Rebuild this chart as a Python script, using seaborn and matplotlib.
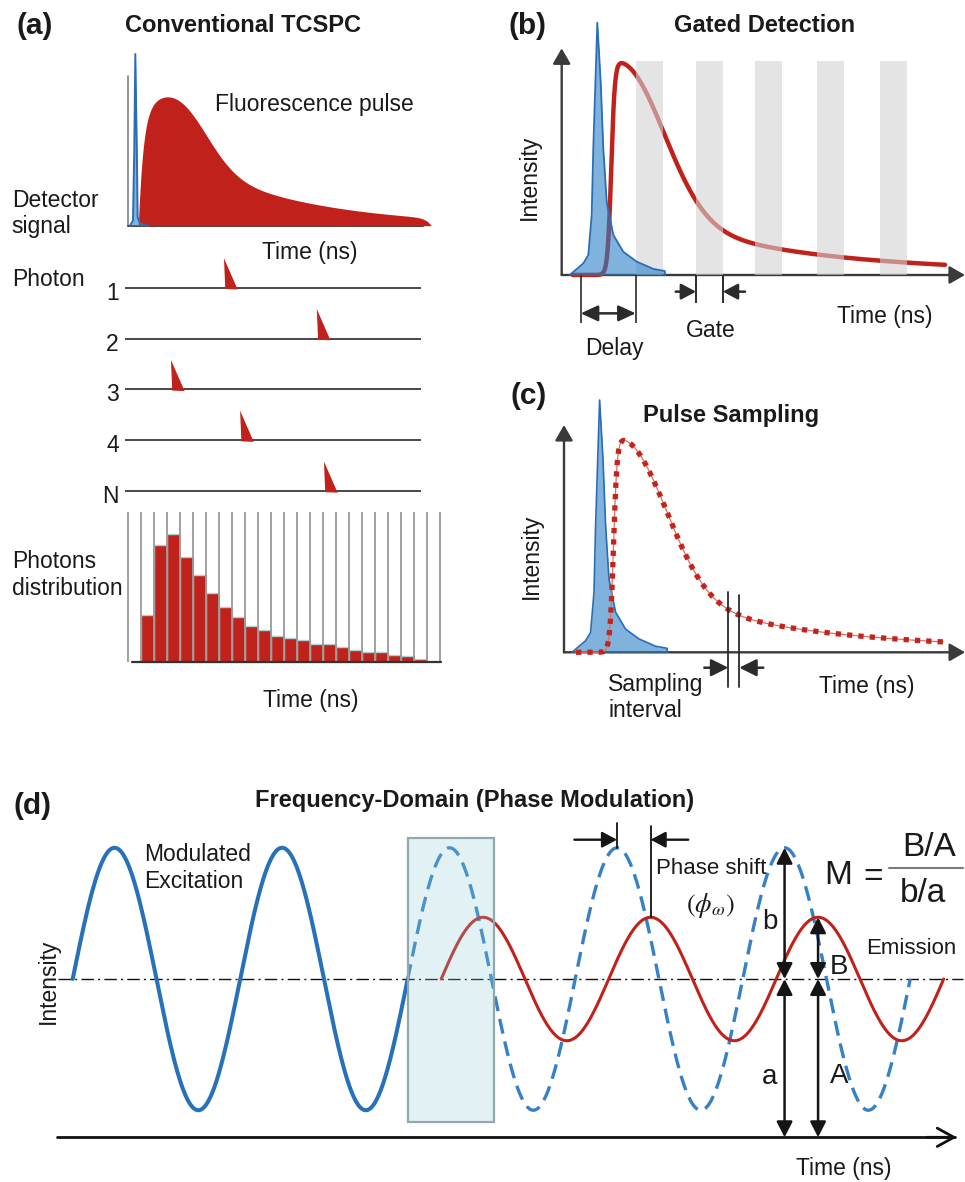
import numpy as np
import pandas as pd
import matplotlib
matplotlib.use("Agg")
import matplotlib.pyplot as plt
from matplotlib.patches import Rectangle
import seaborn as sns

sns.set_theme(style="white")
plt.rcParams["font.family"] = ["Liberation Sans", "DejaVu Sans"]
plt.rcParams["mathtext.fontset"] = "stix"

# ======================= DATA =======================
# (a) Conventional TCSPC  (time in histogram bins, intensity relative to laser pulse)
irf_a_time = [0.13, 0.36, 0.46, 0.54, 0.65, 0.72, 0.90, 1.52]
irf_a_int = [0.0, 0.03, 0.44, 1.0, 0.47, 0.05, 0.012, 0.0]
fl_a_window = [0.77, 23.3]          # onset, end
fl_a_rise = [0.385, 0.4]            # rise time, end roll-off
fl_a_tail = [0.582, 8.85]           # amplitude, decay time
fl_a_bump = [0.32, 3.82, 2.31]      # amplitude, centre, width

photon_ids = ["1", "2", "3", "4", "N"]
photon_arrival = [7.36, 14.5, 3.28, 8.6, 15.05]

hist_counts = [142, 352, 384, 317, 262, 209, 167, 135, 109, 97, 80, 74,
               67, 55, 54, 47, 37, 32, 30, 22, 19, 10]
hist_first_bin = 1
hist_n_bins = 24
hist_frame = 450

# (b) / (c)  (time in ns, intensity relative to laser pulse)
irf_time = [0.267, 0.72, 0.887, 1.0, 1.053, 1.187, 1.3, 1.387, 1.5, 1.72,
            2.053, 2.5, 3.053, 3.433, 3.45]
irf_int = [0.0, 0.046, 0.079, 0.238, 0.502, 1.0, 0.765, 0.502, 0.29, 0.159,
           0.092, 0.053, 0.024, 0.016, 0.0]
pulse_peak = [2.15]
pulse_bump = [0.515, 1.333]         # amplitude, width
pulse_fast = [0.159, 2.667]         # amplitude, lifetime
pulse_slow = [0.159, 7.333]         # amplitude, lifetime
pulse_rise = [1.65, 0.06]           # rise centre, rise width
pulse_window_b = [0.37, 12.78]
pulse_window_c = [0.40, 12.64]

gate_starts = [2.467, 4.477, 6.443, 8.51, 10.61]
gate_width = 0.895
gate_height = 0.849
delay_span = [0.633, 2.467]
sample_times = [5.477, 5.843]

# (d) Frequency domain
mod_period = 1.0
exc_dc, exc_ac = 1.0, 0.829
em_dc, em_ac = 1.0, 0.39
phase_lag = 0.2                     # fraction of period (72 deg)
exc_solid_span = [0.0, 2.0]
exc_dashed_span = [2.0, 5.0]
em_span = [2.2, 5.2]
window_span = [2.0, 2.515, 0.0985, 1.893]
marker_cycles = [3, 4]              # cycle for phase shift, cycle for amplitudes

# ======================= STYLE =======================
W, H = 965, 1182
RED = "#c0221b"
RED_DOT = "#c4241c"
BLUE = "#2671b9"
BLUE2 = "#3580c6"
IRF_FILL = "#2a7fc5"
IRF_EDGE = "#2a6db5"
DARK = "#2b2b2b"
FS = 16.5

fig = plt.figure(figsize=(W / 100, H / 100), dpi=100)
limits = []


def panel_axes(box, origin, scale):
    left, right, top, bottom = box
    x0, y0 = origin
    xs, ys = scale
    ax = fig.add_axes([left / W, 1 - bottom / H, (right - left) / W, (bottom - top) / H])
    xl = ((left - x0) / xs, (right - x0) / xs)
    yl = ((y0 - bottom) / ys, (y0 - top) / ys)
    ax.set_xlim(*xl)
    ax.set_ylim(*yl)
    ax.set_axis_off()
    limits.append((ax, xl, yl))
    return ax


def ftext(px, py, s, **kw):
    kw.setdefault("fontsize", FS)
    kw.setdefault("color", "#1a1a1a")
    return fig.text(px / W, 1 - py / H, s, **kw)


def arrow(ax, p0, p1, style="-|>", lw=1.7, color="#151515", hl=0.45, hw=0.24, z=6):
    ax.annotate("", xy=p1, xytext=p0, annotation_clip=False, zorder=z,
                arrowprops=dict(arrowstyle=f"{style},head_length={hl},head_width={hw}",
                                lw=lw, color=color, shrinkA=0, shrinkB=0,
                                mutation_scale=20))


def pulse_a(t):
    on, end = fl_a_window
    rise = np.clip(1 - np.exp(-(t - on) / fl_a_rise[0]), 0, None)
    fall = np.clip(1 - np.exp(-(end - t) / fl_a_rise[1]), 0, None)
    tail = fl_a_tail[0] * np.exp(-(t - on) / fl_a_tail[1])
    bump = fl_a_bump[0] * np.exp(-0.5 * ((t - fl_a_bump[1]) / fl_a_bump[2]) ** 2)
    return rise * fall * (tail + bump)


def pulse_bc(t):
    tp = pulse_peak[0]
    d = (pulse_bump[0] * np.exp(-0.5 * ((t - tp) / pulse_bump[1]) ** 2)
         + pulse_fast[0] * np.exp(-(t - tp) / pulse_fast[1])
         + pulse_slow[0] * np.exp(-(t - tp) / pulse_slow[1]))
    r = 1.0 / (1.0 + np.exp(-(t - pulse_rise[0]) / pulse_rise[1]))
    return d * r


# ======================= PANEL (a) =======================
axa = panel_axes((100, 460, 40, 240), (128.3, 225.7), (13, 171.7))
ta = np.linspace(fl_a_window[0], fl_a_window[1], 600)
axa.fill_between(ta, 0, pulse_a(ta), color=RED, lw=0, zorder=2)
axa.fill_between(irf_a_time, 0, irf_a_int, color=IRF_FILL, alpha=0.6, lw=0, zorder=3)
sns.lineplot(x=irf_a_time, y=irf_a_int, ax=axa, color=IRF_EDGE, lw=1.4,
             sort=False, estimator=None, zorder=4)
axa.plot([-0.05, -0.05], [0, 0.87], color="#8a8a8a", lw=1.3, zorder=1)
axa.plot([-0.05, 22.69], [0, 0], color="#444444", lw=1.4, zorder=1)

axp = panel_axes((100, 460, 245, 505), (128.3, 287.7), (13, 50.8))
rows = -np.arange(len(photon_ids))
axp.hlines(rows, -0.25, 22.5, color="#3a3a3a", lw=1.3, zorder=1)
for r, lab, t0 in zip(rows, photon_ids, photon_arrival):
    axp.fill([t0, t0 + 0.1, t0 + 1.05], [r + 0.58, r - 0.025, r - 0.035],
             color=RED, lw=0, zorder=3)
    axp.text(-0.72, r - 0.11, lab, ha="right", va="center", fontsize=FS, color="#1a1a1a")

axh = panel_axes((100, 460, 505, 680), (128.3, 662.3), (13, 1 / 3))
hbins = [hist_first_bin + i for i in range(len(hist_counts) + 1)]
hist_df = pd.DataFrame({"bin": [b + 0.5 for b in hbins[:-1]], "count": hist_counts})
sns.histplot(data=hist_df, x="bin", weights="count", bins=hbins, ax=axh,
             color=RED, alpha=1, edgecolor="#a9d2d6", linewidth=1.0, zorder=2)
axh.vlines(np.arange(0, hist_n_bins + 1), 0, hist_frame, color="#9a9a9a", lw=1.3, zorder=3)
axh.plot([0.26, 24.08], [0, 0], color="#333333", lw=1.6, zorder=4)

ftext(16.7, 25.8, "(a)", fontsize=21.5, fontweight="bold", ha="left", va="center")
ftext(125, 32.3, "Conventional TCSPC", fontsize=17, fontweight="bold", ha="left", va="baseline")
ftext(215, 105, "Fluorescence pulse", ha="left", va="center")
ftext(11.7, 206.7, "Detector", ha="left", va="baseline")
ftext(11.7, 233.3, "signal", ha="left", va="baseline")
ftext(310, 252, "Time (ns)", ha="center", va="center")
ftext(11.7, 286, "Photon", ha="left", va="baseline")
ftext(11.7, 568.3, "Photons", ha="left", va="baseline")
ftext(11.7, 595, "distribution", ha="left", va="baseline")
ftext(311, 700, "Time (ns)", ha="center", va="center")

# ======================= PANEL (b) =======================
axb = panel_axes((500, 968, 0, 370), (561.7, 275), (30, 252.3))
tb = np.linspace(pulse_window_b[0], pulse_window_b[1], 900)
sns.lineplot(x=tb, y=pulse_bc(tb), ax=axb, color=RED, lw=3.2, sort=False,
             estimator=None, zorder=2, solid_capstyle="round")
axb.bar(gate_starts, gate_height, width=gate_width, align="edge",
        color="#d2d2d2", alpha=0.6, lw=0, zorder=3)
axb.fill_between(irf_time, 0, irf_int, color=IRF_FILL, alpha=0.6, lw=0, zorder=4)
sns.lineplot(x=irf_time, y=irf_int, ax=axb, color=IRF_EDGE, lw=1.3,
             sort=False, estimator=None, zorder=5)
arrow(axb, (0, 0), (0, 0.8985), lw=1.7, color="#3a3a3a", hl=0.47, hw=0.27, z=1)
arrow(axb, (0, 0), (13.443, 0), lw=1.7, color="#3a3a3a", hl=0.47, hw=0.27, z=1)
axb.vlines(delay_span, -0.191, 0, color=DARK, lw=1.2, zorder=6)
arrow(axb, (delay_span[0], -0.152), (delay_span[1], -0.152), style="<|-|>",
      lw=1.8, color=DARK, hl=0.52, hw=0.24)
g0, g1 = gate_starts[1], gate_starts[1] + gate_width
axb.vlines([g0, g1], -0.112, 0, color=DARK, lw=1.4, zorder=6)
arrow(axb, (3.8, -0.066), (g0, -0.066), lw=1.8, color=DARK, hl=0.45, hw=0.24)
arrow(axb, (6.11, -0.066), (g1, -0.066), lw=1.8, color=DARK, hl=0.45, hw=0.24)

ftext(508.3, 25.8, "(b)", fontsize=21.5, fontweight="bold", ha="left", va="center")
ftext(764.5, 32.3, "Gated Detection", fontsize=17, fontweight="bold", ha="center", va="baseline")
ftext(529, 177.5, "Intensity", rotation=90, ha="center", va="center")
ftext(614, 348, "Delay", ha="center", va="center")
ftext(711, 330, "Gate", ha="center", va="center")
ftext(885, 316.5, "Time (ns)", ha="center", va="center")

# ======================= PANEL (c) =======================
axc = panel_axes((500, 968, 380, 740), (564, 652.3), (30, 252.3))
axc.fill_between(irf_time, 0, irf_int, color=IRF_FILL, alpha=0.6, lw=0, zorder=2)
sns.lineplot(x=irf_time, y=irf_int, ax=axc, color=IRF_EDGE, lw=1.2,
             sort=False, estimator=None, zorder=3)
tc = np.linspace(pulse_window_c[0], pulse_window_c[1], 900)
sns.lineplot(x=tc, y=pulse_bc(tc), ax=axc, color="#dc6f69", lw=0.9, sort=False,
             estimator=None, zorder=4)
sns.lineplot(x=tc, y=pulse_bc(tc), ax=axc, color=RED_DOT, lw=3.8, sort=False,
             estimator=None, zorder=5, linestyle=(0, (1.0, 1.15)), dash_capstyle="butt")
arrow(axc, (0, 0), (0, 0.901), lw=1.7, color="#3a3a3a", hl=0.47, hw=0.27, z=1)
arrow(axc, (0, 0), (13.37, 0), lw=1.7, color="#3a3a3a", hl=0.47, hw=0.27, z=1)
axc.plot([sample_times[0]] * 2, [-0.136, 0.24], color=DARK, lw=1.3, zorder=6)
axc.plot([sample_times[1]] * 2, [-0.136, 0.227], color=DARK, lw=1.3, zorder=6)
arrow(axc, (4.677, -0.061), (sample_times[0], -0.061), lw=1.8, color=DARK, hl=0.52, hw=0.26)
arrow(axc, (6.643, -0.061), (sample_times[1], -0.061), lw=1.8, color=DARK, hl=0.52, hw=0.26)

ftext(510, 395.8, "(c)", fontsize=21.5, fontweight="bold", ha="left", va="center")
ftext(731, 422.3, "Pulse Sampling", fontsize=17, fontweight="bold", ha="center", va="baseline")
ftext(531, 556, "Intensity", rotation=90, ha="center", va="center")
ftext(608.3, 691, "Sampling", ha="left", va="baseline")
ftext(608.3, 716.7, "interval", ha="left", va="baseline")
ftext(866.7, 686.7, "Time (ns)", ha="center", va="center")

# ======================= PANEL (d) =======================
axd = panel_axes((0, 965, 785, 1182), (72.7, 1137.3), (167.5, 158.3))


def excitation(t):
    return exc_dc + exc_ac * np.sin(2 * np.pi * t / mod_period)


def emission(t):
    return em_dc + em_ac * np.sin(2 * np.pi * (t / mod_period - phase_lag))


ts = np.linspace(exc_solid_span[0], exc_solid_span[1], 500)
sns.lineplot(x=ts, y=excitation(ts), ax=axd, color=BLUE, lw=2.9, sort=False,
             estimator=None, zorder=3)
tdash = np.linspace(exc_dashed_span[0], exc_dashed_span[1], 800)
sns.lineplot(x=tdash, y=excitation(tdash), ax=axd, color=BLUE2, lw=2.4, sort=False,
             estimator=None, zorder=3, linestyle=(0, (4.5, 2.4)))
te = np.linspace(em_span[0], em_span[1], 800)
sns.lineplot(x=te, y=emission(te), ax=axd, color=RED, lw=2.2, sort=False,
             estimator=None, zorder=4)
axd.plot([-0.087, 5.316], [exc_dc, exc_dc], color="#111111", lw=1.0,
         linestyle=(0, (9, 3, 1.5, 3)), zorder=2)
axd.plot([-0.096, 5.27], [0, 0], color="#111111", lw=2.0, zorder=2)
arrow(axd, (5.1, 0), (5.278, 0), style="->", lw=2.0, color="#111111", hl=0.6, hw=0.33)
axd.add_patch(Rectangle((window_span[0], window_span[2]),
                        window_span[1] - window_span[0], window_span[3] - window_span[2],
                        facecolor=(0.55, 0.80, 0.84, 0.25), edgecolor="#8fa9ad",
                        lw=1.6, zorder=5))

t_exc = (marker_cycles[1] + 0.25) * mod_period
t_em = t_exc + phase_lag * mod_period
arrow(axd, (t_exc, exc_dc), (t_exc, exc_dc + exc_ac), style="<|-|>", lw=1.8, hl=0.47, hw=0.24)
arrow(axd, (t_exc, 0), (t_exc, exc_dc), style="<|-|>", lw=1.8, hl=0.47, hw=0.24)
arrow(axd, (t_em, em_dc), (t_em, em_dc + em_ac), style="<|-|>", lw=1.8, hl=0.47, hw=0.24)
arrow(axd, (t_em, 0), (t_em, em_dc), style="<|-|>", lw=1.8, hl=0.47, hw=0.24)

p_exc = (marker_cycles[0] + 0.25) * mod_period
p_em = p_exc + phase_lag * mod_period
axd.plot([p_exc, p_exc], [exc_dc + exc_ac, 1.983], color="#111111", lw=1.3, zorder=6)
axd.plot([p_em, p_em], [em_dc + em_ac, 1.968], color="#111111", lw=1.3, zorder=6)
arrow(axd, (2.995, 1.88), (p_exc, 1.88), lw=1.7, hl=0.45, hw=0.24)
arrow(axd, (3.675, 1.88), (p_em, 1.88), lw=1.7, hl=0.45, hw=0.24)
axd.plot([4.875, 5.317], [1.699, 1.699], color="#7a7a7a", lw=1.5, clip_on=False, zorder=6)

ftext(13.3, 805.8, "(d)", fontsize=21.5, fontweight="bold", ha="left", va="center")
ftext(474.7, 807.3, "Frequency-Domain (Phase Modulation)", fontsize=17,
      fontweight="bold", ha="center", va="baseline")
ftext(144, 861, "Modulated", ha="left", va="baseline")
ftext(144, 888.3, "Excitation", ha="left", va="baseline")
ftext(48, 981, "Intensity", rotation=90, ha="center", va="center")
ftext(844, 1169, "Time (ns)", ha="center", va="center")
ftext(655.7, 868, "Phase shift", fontsize=16, ha="left", va="center")
ftext(710, 905, r"$(\phi_{\omega})$", fontsize=19, ha="center", va="center")
ftext(866, 949, "Emission", fontsize=16, ha="left", va="center")
ftext(769.7, 921.7, "b", fontsize=20, ha="center", va="center")
ftext(769.7, 1077, "a", fontsize=20, ha="center", va="center")
ftext(839, 966.7, "B", fontsize=20, ha="center", va="center")
ftext(839.2, 1076.3, "A", fontsize=20, ha="center", va="center")
ftext(838.3, 875, "M", fontsize=24, ha="center", va="center")
ftext(873, 877, "=", fontsize=24, ha="center", va="center")
ftext(928.7, 848, "B/A", fontsize=24, ha="center", va="center")
ftext(923, 893, "b/a", fontsize=24, ha="center", va="center")

for ax, xl, yl in limits:
    ax.set_xlim(*xl)
    ax.set_ylim(*yl)

fig.savefig("out.png", dpi=100)
